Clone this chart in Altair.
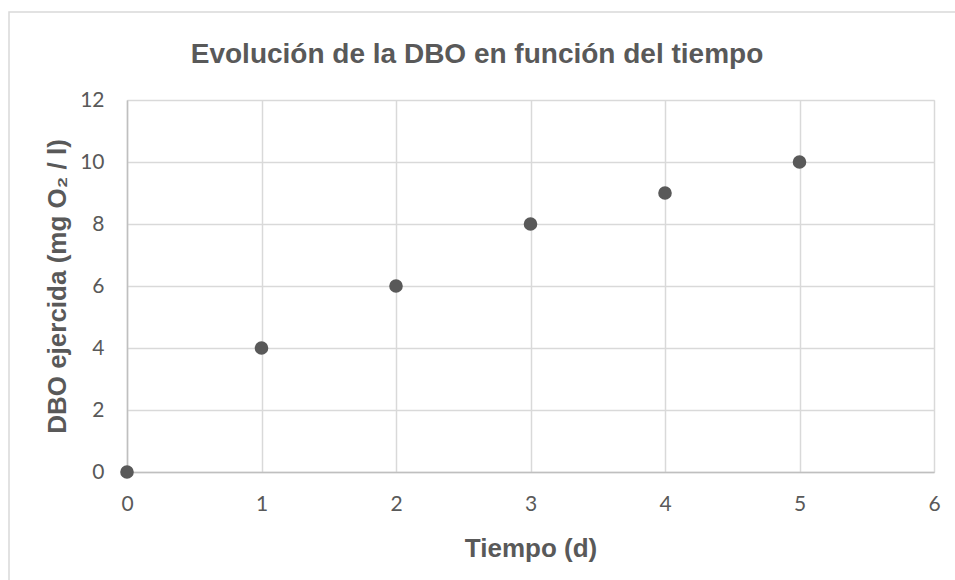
import altair as alt
import pandas as pd

# Días transcurridos y DBO ejercida medida
tiempo_d = [0, 1, 2, 3, 4, 5]
dbo_mg_l = [0, 4, 6, 8, 9, 10]
titulo = "Evolución de la DBO en función del tiempo"

df = pd.DataFrame({"tiempo": tiempo_d, "dbo": dbo_mg_l})

GRID = "#d9d9d9"
TEXT = "#595959"

# Marco exterior del gráfico
frame = alt.Chart(pd.DataFrame({"k": [0]})).mark_rect(
    fill=None, stroke=GRID, strokeWidth=1.5, clip=False
).encode(
    x=alt.value(-118), x2=alt.value(900),
    y=alt.value(-88), y2=alt.value(500),
)

# Título centrado en el marco
title = alt.Chart(pd.DataFrame({"t": [titulo]})).mark_text(
    font="Liberation Sans", fontSize=28, fontWeight="bold", color=TEXT,
    align="center", baseline="alphabetic", clip=False,
).encode(
    text="t:N", x=alt.value(350), y=alt.value(-37),
)

points = alt.Chart(df).mark_circle(
    size=185, color=TEXT, opacity=1, clip=False
).encode(
    x=alt.X(
        "tiempo:Q",
        scale=alt.Scale(domain=[0, 6], nice=False),
        axis=alt.Axis(
            title="Tiempo (d)", values=[0, 1, 2, 3, 4, 5, 6], format="d",
            labelPadding=21, labelFlush=False, titlePadding=21,
        ),
    ),
    y=alt.Y(
        "dbo:Q",
        scale=alt.Scale(domain=[0, 12], nice=False),
        axis=alt.Axis(
            title="DBO ejercida (mg O₂ / l)", values=[0, 2, 4, 6, 8, 10, 12],
            format="d", labelPadding=23, labelFlush=False, titlePadding=9,
        ),
    ),
)

chart = alt.layer(frame, title, points).properties(
    width=807,
    height=372,
    background="white",
    autosize=alt.AutoSizeParams(type="none"),
    padding={"left": 127, "top": 100, "right": 21, "bottom": 108},
).configure_view(
    stroke=GRID, strokeWidth=1
).configure_axis(
    grid=True, gridColor=GRID, gridWidth=1.5,
    domainColor="#bfbfbf", domainWidth=1.5,
    ticks=False,
    labelFont="Lato", labelFontSize=21, labelColor=TEXT,
    titleFont="Liberation Sans", titleFontSize=26, titleFontWeight="bold",
    titleColor=TEXT,
)

chart.save("out.html", embed_options={"renderer": "svg", "actions": False})
